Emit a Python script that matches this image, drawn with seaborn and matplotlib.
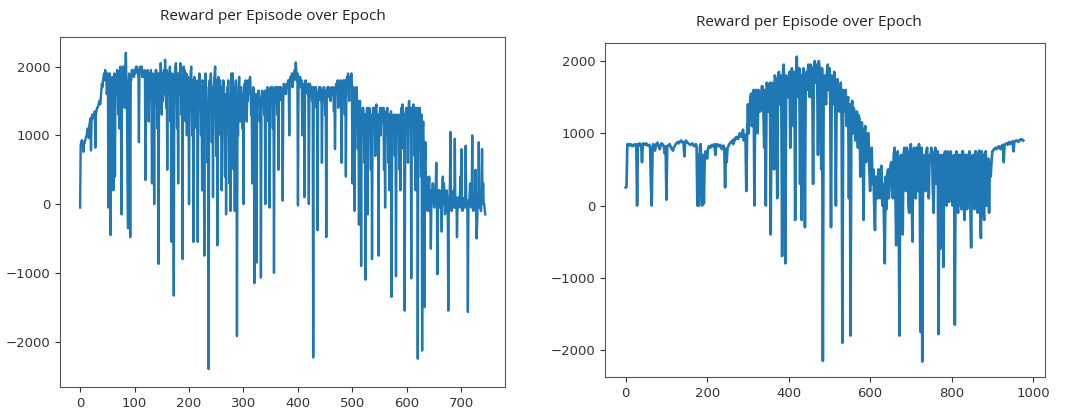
import numpy as np
import pandas as pd
import matplotlib
matplotlib.use('Agg')
import matplotlib.pyplot as plt
import seaborn as sns

# Episode rewards read off the two training runs
# run 1: one value per episode, run 2: one value every 2 episodes
step_run1 = 1
step_run2 = 2

reward_run1 = [
    -50, 850, 900, 930, 920, 880, 760, 900, 880, 920, 950, 980, 1000, 1050, 1100, 1000, 960, 1150, 1200, 1250,
    780, 1200, 1300, 1280, 1250, 1300, 1280, 1350, 820, 1300, 1350, 1400, 1400, 1420, 1450, 1500, 1500, 1450, 1550, 1650,
    1750, 1700, 1800, 1850, 1900, 1800, 1950, 1900, 1850, 1600, 1700, 1900, -50, 1800, 1900, 1200, -450, 1700, 1600, 1850,
    1800, 200, 1500, 1900, 400, 1850, 1700, 1600, 1950, 1800, 1300, 1900, 1100, 1950, 2000, 1500, -150, 1900, 1800, 2000,
    2000, 1700, 1400, 1950, 2200, 1800, 1500, 300, -350, 1700, 1900, 1400, -480, 1800, 1800, 1950, 1950, 1900, 1900, 1850,
    1950, 1900, 1980, 2000, 2000, 1950, 1900, 1950, 900, 1900, 2000, 1950, 1950, 2000, 1850, 1900, 1900, 1850, 1950, 1900,
    350, 1800, 1900, 1500, 1950, 1850, 1200, 1900, 1850, 1700, 1950, 1500, 300, 1900, 1800, 1400, 0, 1800, 1900, 1950,
    1950, 1600, 1100, 1900, -870, 1800, 1900, 1500, 2050, 1800, 1300, 1900, 1500, 1700, 1950, 1600, 2100, 1800, 1400, 1950,
    500, 1900, 1800, 1600, 1900, 2000, 1200, 1800, -550, 1900, 1700, 1500, -1330, 1800, 1900, 2000, 2050, 1700, 1100, 1900,
    300, 1800, 1900, 1600, 2050, 1900, 1300, 1850, -800, 1700, 2000, 1900, 1950, 1500, 1200, 1900, 1000, 1700, 1850, 1600,
    0, 1600, 1700, 1900, 2000, 1500, 1000, 1800, -550, 1700, 1850, 1400, 1800, 1600, 1100, 1700, -550, 1800, 1700, 1900,
    1850, 1500, 1000, 1700, 200, 1800, 1750, 1300, -750, 1600, 1900, 1700, 1700, 1200, 600, 1500, -2400, 1700, 1800, 1500,
    1900, 1600, 900, 1700, 100, 1500, 1800, 1900, 2000, 1500, 700, 1800, -600, 1700, 1850, 1500, 1400, 1800, 1000, 1700,
    200, 1400, 1600, 1800, 1500, 1200, 400, 1600, -150, 1400, 1700, 1500, 1800, 1300, 300, 1600, -100, 1500, 1900, 1700,
    1900, 1600, 500, 1700, -100, 1500, 1800, 1400, -1920, 1300, 1000, 1700, 1850, 1600, 1200, 1700, 1700, 1500, 1100, 1600,
    0, 1500, 1750, 1600, 1800, 1700, 1200, 1650, 1500, 1800, 1750, 1600, 1850, 1700, 1300, 1600, 300, 1500, 1700, 1600,
    -1150, 1400, 1600, 1500, -850, 1600, 1500, 1650, 1650, 1550, 1200, 1500, -1070, 1400, 1650, 1550, 1600, 1500, 1300, 1650,
    0, 1500, 1650, 1600, 1700, 1550, 1200, 1650, -50, 1500, 1700, 1600, 1600, 1700, 1100, 1600, -1000, 1500, 1700, 1650,
    1700, 1600, 1300, 1700, 500, 1600, 1700, 1650, 1650, 1700, 1500, 1600, 50, 1500, 1750, 1700, 1700, 1650, 1600, 1750,
    1750, 1700, 1800, 1750, 1000, 1800, 1850, 1800, 1800, 1900, 1700, 1850, 1900, 1800, 1950, 1900, 2060, 1950, 1800, 1900,
    -20, 1700, 1800, 1750, 1850, 1700, 1700, 1800, 1000, 1700, 1750, 1600, 100, 1700, 1800, 1650, 1750, 1700, 1600, 1750,
    0, 1600, 1750, 1700, 1700, 1600, 1500, 1700, -2230, 1600, 1700, 1650, 1650, 1700, 1400, 1600, -380, 1550, 1650, 1700,
    1600, 1700, 1500, 1650, 600, 1600, 1650, 1700, 1700, 1600, 1300, 1650, -480, 1600, 1700, 1650, 1650, 1700, 1550, 1600,
    1500, 1650, 1700, 1600, 1600, 1700, 1350, 1650, 800, 1600, 1750, 1700, 1750, 1800, 1400, 1700, 1700, 1750, 1800, 1700,
    600, 1700, 1750, 1800, 1800, 1700, 1300, 1800, 400, 1700, 1850, 1800, 1900, 1750, 1500, 1800, 1850, 1800, 1900, 1750,
    300, 1600, 1700, 1500, -100, 1400, 1600, 1700, 1700, 1300, 800, 1500, -300, 1400, 1500, 1200, -900, 1300, 1200, 1400,
    1400, 1200, 600, 1300, -1100, 1200, 1300, 1400, -150, 1300, 1200, 1400, 1300, 1100, 500, 1300, -800, 1200, 1400, 1300,
    1400, 1300, 700, 1400, 1450, 1200, 800, 1300, -750, 1200, 1300, 1400, 1000, 1300, 1400, 1200, 1300, 1400, 500, 1300,
    -50, 1200, 1350, 1300, 1400, 1200, 600, 1300, 200, 1200, 1300, 1350, -1350, 1100, 1200, 1300, 1300, 1200, 700, 1300,
    -1050, 1200, 1300, 1250, 1200, 1300, 500, 1200, 200, 1300, 1400, 1300, 1450, 1350, 800, 1300, -1550, 1200, 1300, 1400,
    1350, 1300, 600, 1400, 1500, 1350, 1200, 1400, -1080, 1300, 1400, 1350, 1450, 1300, 700, 1400, 200, 1200, 1300, 1400,
    -2250, 1200, 1300, 1400, 1400, 1000, 400, 1300, -2130, 1000, 1200, 800, -1500, 600, 900, 300, 400, 200, -100, 300,
    200, 400, -100, 200, -650, 0, 100, 300, 300, 100, -50, 200, 0, 300, 600, 100, -1020, 0, 200, -50,
    200, 0, -50, 100, -400, 200, 400, 0, 300, 100, -150, 0, -100, 200, 100, -50, -1550, 0, 0, 300,
    1050, 0, -100, 100, -50, 0, 200, -50, 950, 0, -50, 100, -480, 0, 50, -50, 100, 0, 400, -50,
    800, 0, -100, 50, -50, 0, 100, -50, 850, 0, -50, 50, -1570, -50, 0, 100, 300, 0, -50, 50,
    1000, 0, -100, 50, -50, 0, 500, -50, -500, -300, 100, -50, 900, 0, -50, 0, -100, 50, 800, 0,
    300, 0, 0, -100, -150,
]

reward_run2 = [
    250, 260, 850, 840, 830, 850, 850, 830, 820, 840,
    840, 830, 850, 840, 0, 850, 830, 860, 850, 840,
    600, 850, 860, 850, 840, 860, 850, 830, 830, 840,
    800, 250, 0, 820, 850, 800, 760, 830, 860, 870,
    830, 800, 780, 840, 860, 850, 840, 800, 720, 820,
    80, 820, 830, 840, 850, 820, 790, 780, 760, 800,
    820, 840, 860, 870, 880, 860, 870, 890, 900, 880,
    880, 870, 680, 880, 900, 880, 870, 860, 850, 840,
    840, 850, 860, 840, 820, 830, 850, 820, 0, 700,
    0, 800, 850, 400, 0, 700, 30, 680, 750, 700,
    650, 780, 820, 810, 800, 830, 840, 820, 830, 850,
    700, 820, 850, 840, 820, 830, 840, 800, 780, 820,
    830, 800, 250, 780, 600, 800, 820, 850, 860, 880,
    880, 900, 850, 920, 900, 940, 950, 930, 920, 960,
    1000, 960, 950, 1000, 1050, 900, 980, 950, 200, 950,
    1400, 1000, 1300, 1500, 1550, 1100, 1200, 1600, 0, 1500,
    1600, 1200, 1000, 1600, 1550, 1300, 1450, 1650, 1650, 1300,
    800, 1600, 0, 1700, 1650, 1300, 1600, 1700, -400, 1500,
    1700, 1400, 500, 1800, 1750, 1200, 100, 1750, 1850, 1400,
    1800, 1500, -700, 1850, 1950, 1400, -800, 1800, 1700, 1500,
    1650, 1850, 800, 1700, 1900, 1500, 1100, 1850, -200, 1700,
    2060, 1600, 1500, 1900, 300, 1800, -200, 1700, 1900, 1600,
    -300, 1800, 1850, 1600, 1950, 1700, 1500, 1950, 1900, 1700,
    300, 1900, 2000, 1700, 1950, 1800, 700, 2000, 1900, 1600,
    500, 1900, -2150, 1700, 1800, 1500, 1400, 1850, 1950, 1600,
    1900, 1500, -300, 1800, 1700, 1400, 1850, 1600, 0, 1700,
    1750, 1400, 1300, 1650, 1700, 1200, -1900, 1600, 1500, 1300,
    1600, 1100, 1400, 1500, 100, 1400, -1800, 1300, 1450, 1000,
    1350, 1100, 900, 1300, 1300, 800, 1250, 1200, 400, 1150,
    1150, 700, -200, 1000, 1100, 600, 700, 1000, 1000, 500,
    200, 600, 800, 300, 500, 0, -340, 400, 300, 100,
    500, 200, 100, 500, 550, 0, 300, -200, -800, 400,
    -50, 400, 500, 100, 400, 550, 600, 200, 100, 700,
    800, 200, -550, 700, 750, 100, -1800, 600, 700, 300,
    -400, 700, 800, 300, 200, 800, 750, 0, -100, 700,
    850, 200, -500, 750, 800, 300, 100, 800, 750, 200,
    850, 100, -1750, 800, -2160, 600, 700, 300, 200, 750,
    800, 400, 100, 700, 600, 800, 750, 200, -100, 700,
    800, 300, 650, 750, -1780, 700, -600, 600, 700, 500,
    -850, 700, 750, 100, 0, 750, 700, 50, 500, 750,
    600, 0, 100, 700, -1650, 600, 750, 0, -100, 700,
    700, 50, -50, 750, 750, 0, -200, 700, 700, -50,
    100, 700, 750, 0, -580, 650, 700, 50, -50, 750,
    750, 0, -100, 700, 760, 50, -450, 750, 700, -50,
    -200, 700, 750, 0, 0, 650, -100, 600, 400, 600,
    750, 760, 780, 790, 800, 780, 790, 810, 820, 800,
    780, 820, 830, 840, 600, 840, 850, 860, 860, 840,
    870, 880, 850, 870, 880, 890, 750, 880, 890, 900,
    900, 890, 880, 900, 910, 905, 920, 910, 900,
]

title_text = 'Reward per Episode over Epoch'

df1 = pd.DataFrame({'epoch': np.arange(len(reward_run1)) * step_run1, 'reward': reward_run1})
df2 = pd.DataFrame({'epoch': np.arange(len(reward_run2)) * step_run2, 'reward': reward_run2})

fig = plt.figure(figsize=(10.65, 4.09), dpi=100)
ax1 = fig.add_axes([0.0563, 0.0538, 0.4178, 0.8557])
ax2 = fig.add_axes([0.568, 0.0782, 0.4131, 0.8166])

for ax, df, lw in [(ax1, df1, 1.7), (ax2, df2, 1.9)]:
    sns.lineplot(x='epoch', y='reward', data=df, ax=ax, color='#1f77b4', lw=lw)
    ax.set_xlabel('')
    ax.set_ylabel('')
    ax.tick_params(labelsize=9.5, colors='#333333', length=3.5)
    for s in ax.spines.values():
        s.set_color('#555555')

ax1.set_xticks([0, 100, 200, 300, 400, 500, 600, 700])
ax1.set_yticks([-2000, -1000, 0, 1000, 2000])
ax2.set_xticks([0, 200, 400, 600, 800, 1000])
ax2.set_yticks([-2000, -1000, 0, 1000, 2000])
ax1.set_xlim(-37, 780)
ax1.set_ylim(-2660, 2430)
ax2.set_xlim(-51, 1029)
ax2.set_ylim(-2373, 2249)

fig.text(273 / 1065, 1 - 16 / 409, title_text, ha='center', va='center',
         fontsize=11, family='Open Sans', color='#222222')
fig.text(809 / 1065, 1 - 22 / 409, title_text, ha='center', va='center',
         fontsize=11, family='Open Sans', color='#222222')

plt.savefig('out.png', dpi=100)
